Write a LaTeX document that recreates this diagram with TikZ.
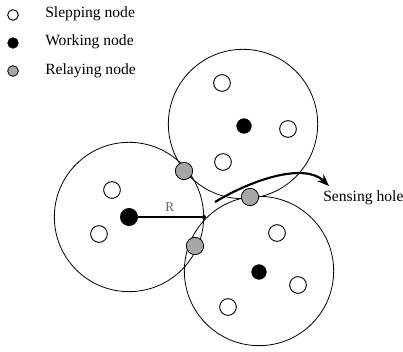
\documentclass[tikz,border=0pt]{standalone}
\usepackage{fontspec}
\setmainfont{Liberation Serif}
\usetikzlibrary{arrows.meta}
\begin{document}
\begin{tikzpicture}[x=0.75pt,y=-0.75pt,
  area/.style={draw, circle, line width=0.6pt, minimum size=112pt, inner sep=0pt},
  sleeping/.style={draw, circle, fill=white, line width=0.7pt, minimum size=12.5pt, inner sep=0pt},
  working/.style={draw, circle, fill=black, minimum size=11pt, inner sep=0pt},
  relaying/.style={draw, circle, fill=gray!70, line width=0.6pt, minimum size=13pt, inner sep=0pt},
  legicon/.style={minimum size=8pt},
  legtext/.style={anchor=west, inner sep=0pt, font=\fontsize{11.7}{13}\selectfont},
  radius line/.style={line width=1.5pt},
  hole arrow/.style={line width=1.6pt, -{Stealth[length=9pt, width=7pt]}}
]
\useasboundingbox (0,0) rectangle (403,352);

% legend
\node[sleeping, legicon] (ls) at (13,15) {};
\node[working, legicon]  (lw) at (13,43) {};
\node[relaying, legicon] (lr) at (13,71) {};
\node[legtext] (tls) at (45,14) {Slepping node};
\node[legtext] (tlw) at (45,42) {Working node};
\node[legtext] (tlr) at (45,71) {Relaying node};

% sensing ranges
\node[area] (left)   at (129,217) {};
\node[area] (top)    at (243,124) {};
\node[area] (bottom) at (259,271) {};

% sensing radius
\node[circle, fill=black, minimum size=3pt, inner sep=0pt] (redge) at (204,217) {};
\node[working, minimum size=13pt] (wl) at (129,217) {};
\draw[radius line] (wl) -- (redge) node[midway, above=0pt, text=black!60, font=\fontsize{10}{12}\selectfont] {R};

% working nodes
\node[working] (wt) at (244,126) {};
\node[working] (wb) at (259,272) {};

% sleeping nodes
\node[sleeping] (s1) at (112,190) {};
\node[sleeping] (s2) at (99,234) {};
\node[sleeping] (s3) at (222,83) {};
\node[sleeping] (s4) at (288,129) {};
\node[sleeping] (s5) at (223,162) {};
\node[sleeping] (s6) at (277,233) {};
\node[sleeping] (s7) at (298,285) {};
\node[sleeping] (s8) at (228,307) {};

% relaying nodes
\node[relaying] (r1) at (184,171) {};
\node[relaying] (r2) at (195,246) {};
\node[relaying] (r3) at (250,197) {};

% sensing hole
\coordinate (tail) at (215,202);
\coordinate (tip) at (329,186);
\draw[hole arrow] (tail) .. controls (255,178) and (305,163) .. (tip);
\node[legtext] (hole) at (323,198) {Sensing hole};
\end{tikzpicture}
\end{document}
